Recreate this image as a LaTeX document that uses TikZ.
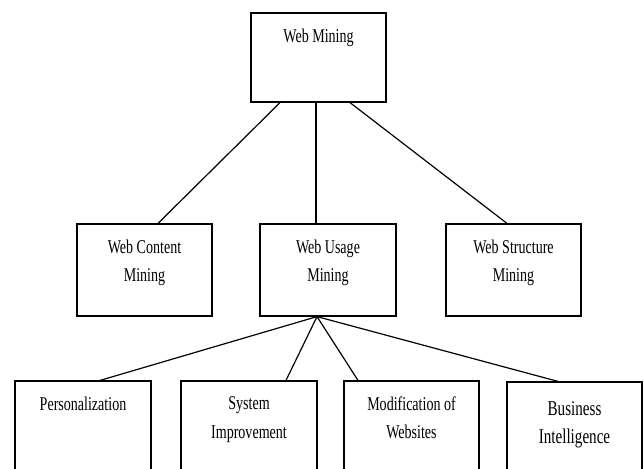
\documentclass[tikz,border=0pt]{standalone}
\usepackage{fontspec}
\setmainfont[FakeStretch=0.72]{Liberation Serif}
\usetikzlibrary{positioning}

\begin{document}
\begin{tikzpicture}[x=1pt,y=-1pt,
  box/.style={draw,line width=1.2pt,minimum width=135pt,minimum height=92pt,inner sep=0pt},
  lbl/.style={align=center,inner sep=0pt,font=\fontsize{19.5}{28.5}\selectfont},
  link/.style={line width=1.2pt}]
\useasboundingbox (0,0) rectangle (644,468);
\clip (0,0) rectangle (644,468);
\node[box,minimum height=89pt] (mining) at (318.5,57.5) {};
\node[box] (content) at (144.5,270) {};
\node[box,minimum width=136pt] (usage) at (328,270) {};
\node[box] (structure) at (513.5,270) {};
\node[box,minimum width=136pt] (pers) at (83,427) {};
\node[box,minimum width=136pt] (sys) at (249,427) {};
\node[box] (modif) at (411.5,427) {};
\node[box] (busi) at (574.5,428) {};
\node[lbl,below=16pt of mining.north] (mining-t) {Web Mining};
\node[lbl,below=16pt of content.north] (content-t) {Web Content\\Mining};
\node[lbl,below=16pt of usage.north] (usage-t) {Web Usage\\Mining};
\node[lbl,below=16pt of structure.north] (structure-t) {Web Structure\\Mining};
\node[lbl,below=16pt of pers.north] (pers-t) {Personalization};
\node[lbl,below=16pt of sys.north] (sys-t) {System\\Improvement};
\node[lbl,below=16pt of modif.north] (modif-t) {Modification of\\Websites};
\node[lbl,font=\fontsize{21}{28}\selectfont,below=20pt of busi.north] (busi-t) {Business\\Intelligence};
\draw[link] ([xshift=-38.5pt]mining.south) -- ([xshift=13.5pt]content.north);
\draw[link] ([xshift=-2.5pt]mining.south) -- ([xshift=-12pt]usage.north);
\draw[link] ([xshift=31.5pt]mining.south) -- ([xshift=-6.5pt]structure.north);
\draw[link] ([xshift=-11pt]usage.south) -- ([xshift=17pt]pers.north);
\draw[link] ([xshift=-11pt]usage.south) -- ([xshift=37pt]sys.north);
\draw[link] ([xshift=-11pt]usage.south) -- ([xshift=-53.5pt]modif.north);
\draw[link] ([xshift=-11pt]usage.south) -- ([xshift=-16.5pt]busi.north);
\end{tikzpicture}
\end{document}
